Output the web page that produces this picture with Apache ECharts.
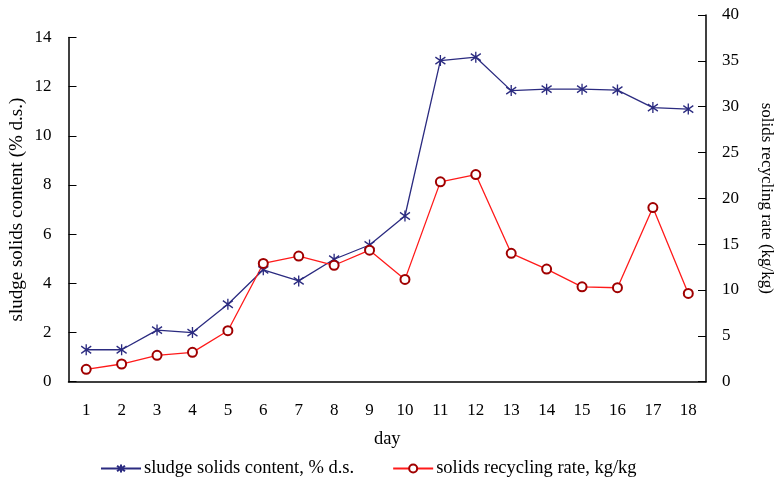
<!DOCTYPE html>
<html>
<head>
<meta charset="utf-8">
<script src="https://cdn.jsdelivr.net/npm/echarts@6/dist/echarts.min.js"></script>
<style>html,body{margin:0;padding:0;background:#fff}#c{width:775px;height:479px}</style>
</head>
<body>
<div id="c"></div>
<script>
var days = ['1','2','3','4','5','6','7','8','9','10','11','12','13','14','15','16','17','18'];
var sludgeSolids = [1.3, 1.3, 2.1, 2.0, 3.15, 4.55, 4.1, 4.98, 5.56, 6.74, 13.06, 13.2, 11.84, 11.9, 11.9, 11.86, 11.15, 11.09];
var recyclingRate = [1.35, 1.93, 2.88, 3.2, 5.56, 12.9, 13.7, 12.7, 14.35, 11.16, 21.8, 22.6, 14.0, 12.28, 10.35, 10.25, 19.0, 9.63];
var leftTicks = {min: 0, max: 14, interval: 2};
var rightTicks = {min: 0, max: 40, interval: 5};

var FONT = 'Liberation Serif';
var BLUE = '#2b2b80';
var RED = '#ff1a1a';
var DARKRED = '#a00000';
var star = 'path://M0,-5L0,5M-4,-3.2L4,3.2M-4,3.2L4,-3.2';

var chart = echarts.init(document.getElementById('c'), null, {renderer: 'canvas'});
chart.setOption({
  animation: false,
  backgroundColor: '#fff',
  grid: [
    {left: 68.5, right: 69, top: 37.5, bottom: 97.3, containLabel: false, outerBoundsMode: 'none'},
    {left: 68.5, right: 69, top: 15, bottom: 97.3, containLabel: false, outerBoundsMode: 'none'}
  ],
  legend: {
    left: 95, top: 454,
    itemWidth: 40, itemHeight: 10, itemGap: 38,
    textStyle: {fontFamily: FONT, fontSize: 18.5, color: '#000', padding: [0, 0, 0, -2]},
    data: ['sludge solids content, % d.s.', 'solids recycling rate, kg/kg']
  },
  xAxis: [
    {
      gridIndex: 0, type: 'category', data: days, boundaryGap: true,
      name: 'day', nameLocation: 'middle', nameGap: 48, nameMoveOverlap: false,
      nameTextStyle: {fontFamily: FONT, fontSize: 18.5, color: '#000'},
      axisLine: {lineStyle: {color: '#000', width: 1.5}},
      axisTick: {inside: true, length: 5, lineStyle: {color: '#000', width: 1}},
      axisLabel: {fontFamily: FONT, fontSize: 17, color: '#000', margin: 20}
    },
    {gridIndex: 1, type: 'category', data: days, boundaryGap: true, show: false}
  ],
  yAxis: [
    {
      gridIndex: 0, type: 'value', position: 'left',
      min: leftTicks.min, max: leftTicks.max, interval: leftTicks.interval,
      name: 'sludge solids content (% d.s.)', nameLocation: 'middle', nameGap: 42, nameRotate: 90,
      nameMoveOverlap: false,
      nameTextStyle: {fontFamily: FONT, fontSize: 19, color: '#000'},
      axisLine: {show: true, lineStyle: {color: '#000', width: 1.5}},
      axisTick: {show: true, inside: true, length: 8, lineStyle: {color: '#000', width: 1}},
      axisLabel: {fontFamily: FONT, fontSize: 17, color: '#000', margin: 17},
      splitLine: {show: false}
    },
    {
      gridIndex: 1, type: 'value', position: 'right',
      min: rightTicks.min, max: rightTicks.max, interval: rightTicks.interval,
      name: 'solids recycling rate (kg/kg)', nameLocation: 'middle', nameGap: 52, nameRotate: -90,
      nameMoveOverlap: false,
      nameTextStyle: {fontFamily: FONT, fontSize: 17, color: '#000'},
      axisLine: {show: true, lineStyle: {color: '#000', width: 1.5}},
      axisTick: {show: true, inside: true, length: 8, lineStyle: {color: '#000', width: 1}},
      axisLabel: {fontFamily: FONT, fontSize: 17, color: '#000', margin: 16},
      splitLine: {show: false}
    }
  ],
  series: [
    {
      name: 'sludge solids content, % d.s.', type: 'line', xAxisIndex: 0, yAxisIndex: 0,
      data: sludgeSolids, symbol: star, symbolSize: [10, 11], showAllSymbol: true,
      lineStyle: {color: BLUE, width: 1.3},
      itemStyle: {color: BLUE, borderColor: BLUE, borderWidth: 1.4}
    },
    {
      name: 'solids recycling rate, kg/kg', type: 'line', xAxisIndex: 1, yAxisIndex: 1,
      data: recyclingRate, symbol: 'emptyCircle', symbolSize: 9, showAllSymbol: true,
      lineStyle: {color: RED, width: 1.3},
      itemStyle: {color: DARKRED, borderColor: DARKRED, borderWidth: 1}
    }
  ]
});
</script>
</body>
</html>
